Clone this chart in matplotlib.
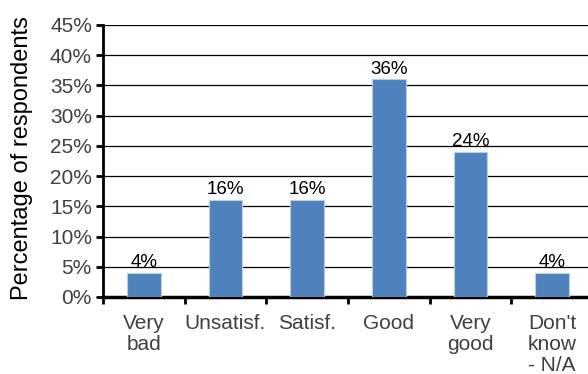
import numpy as np
import matplotlib.pyplot as plt

plt.rcParams['font.family'] = ['Liberation Sans', 'DejaVu Sans']

categories = ['Very\nbad', 'Unsatisf.', 'Satisf.', 'Good', 'Very\ngood', "Don't\nknow\n- N/A"]
values = [4, 16, 16, 36, 24, 4]
yticks = [0, 5, 10, 15, 20, 25, 30, 35, 40, 45]

fig = plt.figure(figsize=(5.88, 3.74), dpi=100)
ax = fig.add_axes([103 / 588, 1 - 297 / 374, 490 / 588, 272 / 374])

x = np.arange(len(values))
ax.bar(x, values, width=0.41, color='#4F81BD', edgecolor='#B9CDE5', linewidth=0.8, zorder=3)

for xi, v in zip(x, values):
    ax.text(xi, v + 0.3, f'{v}%', ha='center', va='bottom', fontsize=13.5, color='black', zorder=4)

ax.set_xlim(-0.5, len(values) - 0.5)
ax.set_ylim(0, 45)
ax.set_yticks(yticks)
ax.set_yticklabels([f'{t}%' for t in yticks], fontsize=15, color='#404040')
ax.yaxis.grid(True, color='black', linewidth=0.9, zorder=0)

# category labels centred, tick marks between categories
ax.set_xticks(x)
ax.set_xticklabels(categories, fontsize=15, color='#404040', linespacing=1.15)
ax.tick_params(axis='x', length=0, pad=12)
ax.set_xticks(np.arange(len(values) + 1) - 0.5, minor=True)
ax.tick_params(axis='x', which='minor', length=5, width=2, direction='out', color='black')
ax.tick_params(axis='y', length=5, width=2, direction='out', color='black', pad=3)

for side in ['top', 'right']:
    ax.spines[side].set_visible(False)
ax.spines['left'].set_linewidth(2)
ax.spines['bottom'].set_linewidth(2.5)

ax.set_ylabel('Percentage of respondents', fontsize=17, color='black')
ax.yaxis.set_label_coords(-70 / 490, 0.51)

fig.savefig('out.png', dpi=100)
